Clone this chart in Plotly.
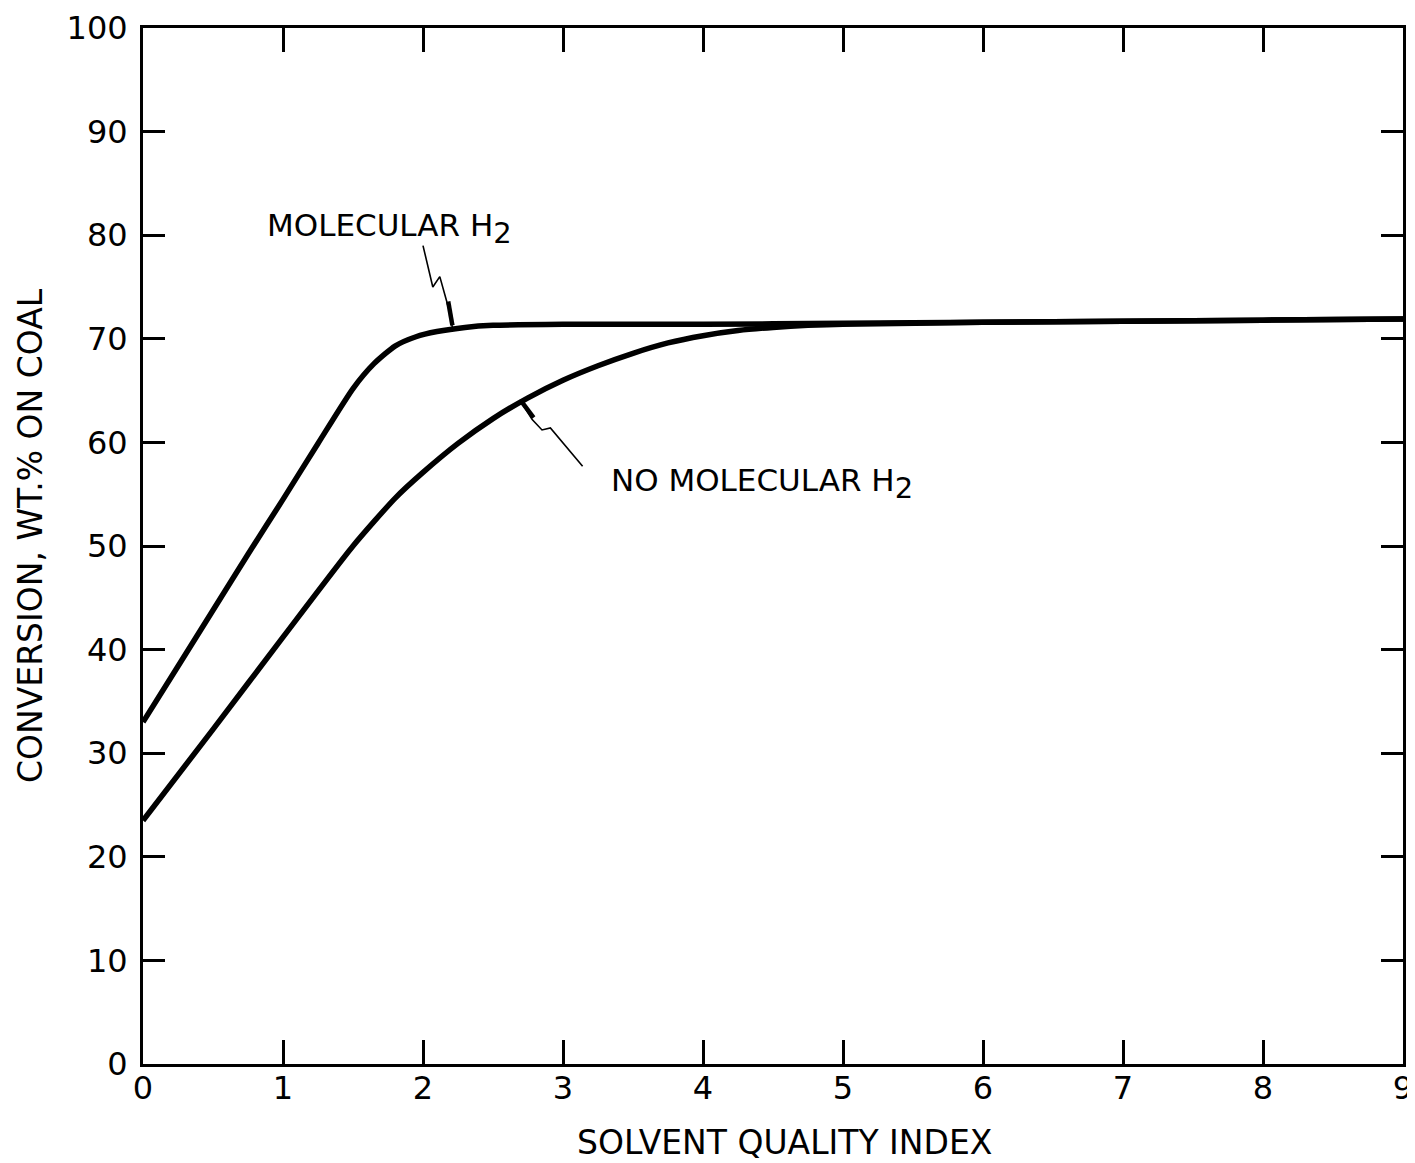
import plotly.graph_objects as go

# Data
x_mol = [0, 0.25, 0.5, 0.75, 1.0, 1.25, 1.5, 1.65, 1.8, 1.95, 2.1, 2.3, 2.5, 3, 4, 5, 6, 7, 8, 9]
y_mol = [33.0, 38.4, 43.8, 49.2, 54.5, 59.9, 65.2, 67.6, 69.3, 70.2, 70.7, 71.1, 71.3, 71.4, 71.4, 71.5, 71.6, 71.7, 71.8, 71.9]

x_no = [0, 0.5, 1.0, 1.5, 1.8, 2.0, 2.25, 2.5, 2.75, 3.0, 3.25, 3.5, 3.75, 4.0, 4.25, 4.5, 4.75, 5, 6, 7, 8, 9]
y_no = [23.5, 32.3, 41.2, 50.0, 54.6, 57.1, 59.9, 62.3, 64.3, 66.0, 67.4, 68.6, 69.6, 70.3, 70.8, 71.1, 71.3, 71.4, 71.6, 71.7, 71.8, 71.9]

# Leader lines (annotation callouts)
lead_mol_x = [2.00, 2.07, 2.12, 2.18, 2.21]
lead_mol_y = [79.0, 75.0, 76.0, 73.1, 71.1]
lead_mol_blob_x = [2.18, 2.21]
lead_mol_blob_y = [73.6, 71.3]

lead_no_x = [3.14, 2.91, 2.85, 2.78, 2.69]
lead_no_y = [57.7, 61.4, 61.2, 62.2, 64.1]
lead_no_blob_x = [2.79, 2.70]
lead_no_blob_y = [62.4, 64.0]

x_ticks = [0, 1, 2, 3, 4, 5, 6, 7, 8, 9]
y_ticks = [0, 10, 20, 30, 40, 50, 60, 70, 80, 90, 100]

FONT = "DejaVu Sans"

fig = go.Figure()
fig.add_trace(go.Scatter(x=x_mol, y=y_mol, mode="lines",
                         line=dict(color="black", width=5.5, shape="spline", smoothing=0.6)))
fig.add_trace(go.Scatter(x=x_no, y=y_no, mode="lines",
                         line=dict(color="black", width=5.5, shape="spline", smoothing=0.6)))
for lx, ly, w in [(lead_mol_x, lead_mol_y, 1.6), (lead_mol_blob_x, lead_mol_blob_y, 4.5),
                  (lead_no_x, lead_no_y, 1.6), (lead_no_blob_x, lead_no_blob_y, 4.5)]:
    fig.add_trace(go.Scatter(x=lx, y=ly, mode="lines", line=dict(color="black", width=w)))

SUB2 = "<sub><span style='font-size:29px'>2</span></sub>"
fig.add_annotation(x=1.76, y=80.6, text="MOLECULAR H" + SUB2, showarrow=False,
                   font=dict(family=FONT, size=31, color="black"), xanchor="center", yanchor="middle")
fig.add_annotation(x=4.42, y=56.0, text="NO MOLECULAR H" + SUB2, showarrow=False,
                   font=dict(family=FONT, size=31, color="black"), xanchor="center", yanchor="middle")

# Axis titles
fig.add_annotation(xref="paper", yref="paper", x=0.5095, y=-0.0753,
                   text="SOLVENT QUALITY INDEX", showarrow=False,
                   font=dict(family=FONT, size=33, color="black"), xanchor="center", yanchor="middle")
fig.add_annotation(xref="paper", yref="paper", x=-0.0897, y=0.5106, textangle=-90,
                   text="CONVERSION, WT.% ON COAL", showarrow=False,
                   font=dict(family=FONT, size=33, color="black"), xanchor="center", yanchor="middle")

# page body has an 8px margin: size/margins compensate so the plot lands where the reference has it
fig.update_layout(
    width=1407, height=1155,
    margin=dict(l=135, r=12, t=20, b=99),
    plot_bgcolor="white", paper_bgcolor="white",
    showlegend=False,
    font=dict(family=FONT, color="black"),
)
fig.update_xaxes(range=[0, 9], tickvals=x_ticks, ticktext=[str(v) for v in x_ticks],
                 showgrid=False, zeroline=False, showline=True, linecolor="black", linewidth=3,
                 mirror="ticks", ticks="inside", ticklen=24, tickwidth=2.5, tickcolor="black",
                 tickfont=dict(family=FONT, size=32, color="black"), ticklabelstandoff=-6,
                 automargin=False)
fig.update_yaxes(range=[0, 100], tickvals=y_ticks, ticktext=[str(v) for v in y_ticks],
                 showgrid=False, zeroline=False, showline=True, linecolor="black", linewidth=3,
                 mirror="ticks", ticks="inside", ticklen=22, tickwidth=2.5, tickcolor="black",
                 tickfont=dict(family=FONT, size=32, color="black"), ticklabelstandoff=6,
                 automargin=False)

fig.write_html("out.html")
